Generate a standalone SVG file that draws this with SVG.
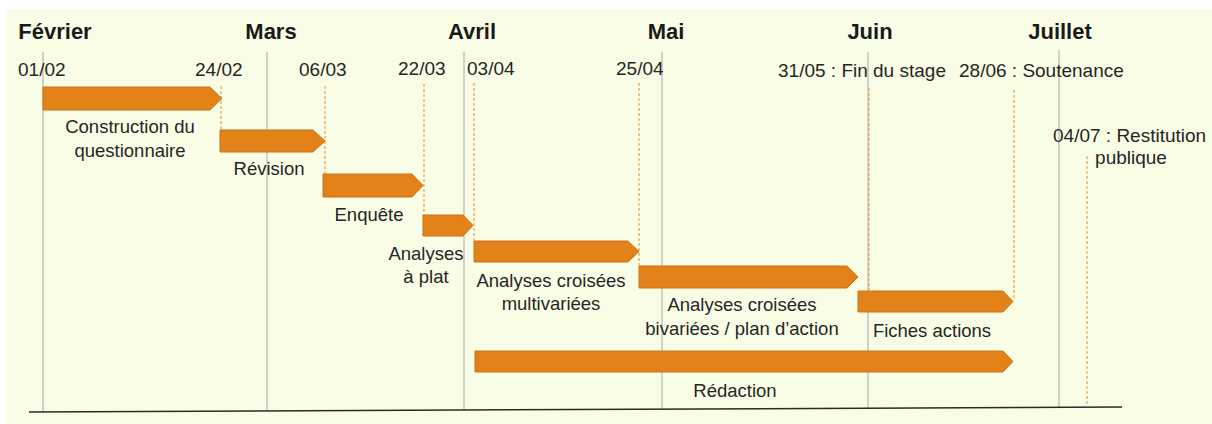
<svg xmlns="http://www.w3.org/2000/svg" width="1212" height="424" viewBox="0 0 1212 424">
<style>
.month{font-family:"Liberation Sans",Arial,sans-serif;font-weight:bold;font-size:22px;fill:#1a1a1a;text-anchor:middle}
.date{font-family:"Liberation Sans",Arial,sans-serif;font-size:19px;fill:#262626}
.lbl{font-family:"Liberation Sans",Arial,sans-serif;font-size:18.5px;fill:#262626;text-anchor:middle}
.bar{fill:#E4821A;stroke:#C8741A;stroke-width:1}
.grid{stroke:#A8A8A8;stroke-width:1;fill:none}
.dash{stroke:#F0A04A;stroke-width:1.2;stroke-dasharray:3 2;fill:none}
</style>
<rect x="0" y="0" width="1212" height="424" fill="#ffffff"/>
<rect x="6" y="9" width="1206" height="415" fill="#FAFDE6"/>
<g id="grid">
<line class="grid" x1="43" y1="52" x2="43" y2="412"/>
<line class="grid" x1="267" y1="52" x2="267" y2="411"/>
<line class="grid" x1="464" y1="52" x2="464" y2="410"/>
<line class="grid" x1="662" y1="52" x2="662" y2="410"/>
<line class="grid" x1="868" y1="52" x2="868" y2="409"/>
<line class="grid" x1="1059" y1="50" x2="1059" y2="408"/>
<line x1="29" y1="412" x2="1122" y2="407" stroke="#2a2a2a" stroke-width="1.5"/>
</g>
<g id="months">
<text class="month" x="55" y="39">Février</text>
<text class="month" x="271" y="39">Mars</text>
<text class="month" x="472" y="39">Avril</text>
<text class="month" x="666" y="39">Mai</text>
<text class="month" x="870" y="39">Juin</text>
<text class="month" x="1060" y="39">Juillet</text>
</g>
<g id="dates">
<text class="date" x="18" y="76">01/02</text>
<text class="date" x="195" y="76">24/02</text>
<text class="date" x="299" y="76">06/03</text>
<text class="date" x="398" y="75">22/03</text>
<text class="date" x="467" y="75">03/04</text>
<text class="date" x="616" y="75">25/04</text>
<text class="date" x="778" y="77">31/05 : Fin du stage</text>
<text class="date" x="959" y="77">28/06 : Soutenance</text>
<text class="date" x="1053" y="142">04/07 : Restitution</text>
<text class="date" x="1131" y="164" text-anchor="middle">publique</text>
</g>
<g id="connectors">
<line class="dash" x1="221" y1="86" x2="221" y2="130"/>
<line class="dash" x1="325" y1="86" x2="325" y2="174"/>
<line class="dash" x1="424" y1="84" x2="424" y2="215"/>
<line class="dash" x1="474" y1="83" x2="474" y2="241"/>
<line class="dash" x1="639" y1="83" x2="639" y2="266"/>
<line class="dash" x1="869" y1="88" x2="869" y2="291"/>
<line class="dash" x1="1014" y1="90" x2="1014" y2="299"/>
<line class="dash" x1="1087" y1="156" x2="1087" y2="405"/>
</g>
<g id="construction">
<polygon class="bar" points="43,87 210,87 222,98.5 210,110 43,110"/>
<text class="lbl" x="130" y="133">Construction du</text>
<text class="lbl" x="130" y="157">questionnaire</text>
</g>
<g id="revision">
<polygon class="bar" points="220,130 313,130 325,141 313,152 220,152"/>
<text class="lbl" x="269" y="175">Révision</text>
</g>
<g id="enquete">
<polygon class="bar" points="323,174 412,174 423,185.5 412,197 323,197"/>
<text class="lbl" x="369" y="221">Enquête</text>
</g>
<g id="analyses-plat">
<polygon class="bar" points="423,215 463,215 473,225.5 463,236 423,236"/>
<text class="lbl" x="426" y="260">Analyses</text>
<text class="lbl" x="426" y="283">à plat</text>
</g>
<g id="analyses-multi">
<polygon class="bar" points="474,241 628,241 639,251.5 628,262 474,262"/>
<text class="lbl" x="551" y="287">Analyses croisées</text>
<text class="lbl" x="551" y="310">multivariées</text>
</g>
<g id="analyses-bi">
<polygon class="bar" points="639,266 847,266 858,277 847,288 639,288"/>
<text class="lbl" x="742" y="311">Analyses croisées</text>
<text class="lbl" x="742" y="335">bivariées / plan d’action</text>
</g>
<g id="fiches">
<polygon class="bar" points="858,291 1003,291 1013,301.5 1003,312 858,312"/>
<text class="lbl" x="932" y="337">Fiches actions</text>
</g>
<g id="redaction">
<polygon class="bar" points="475,351 1003,351 1013,361.5 1003,372 475,372"/>
<text class="lbl" x="735" y="397">Rédaction</text>
</g>
</svg>
